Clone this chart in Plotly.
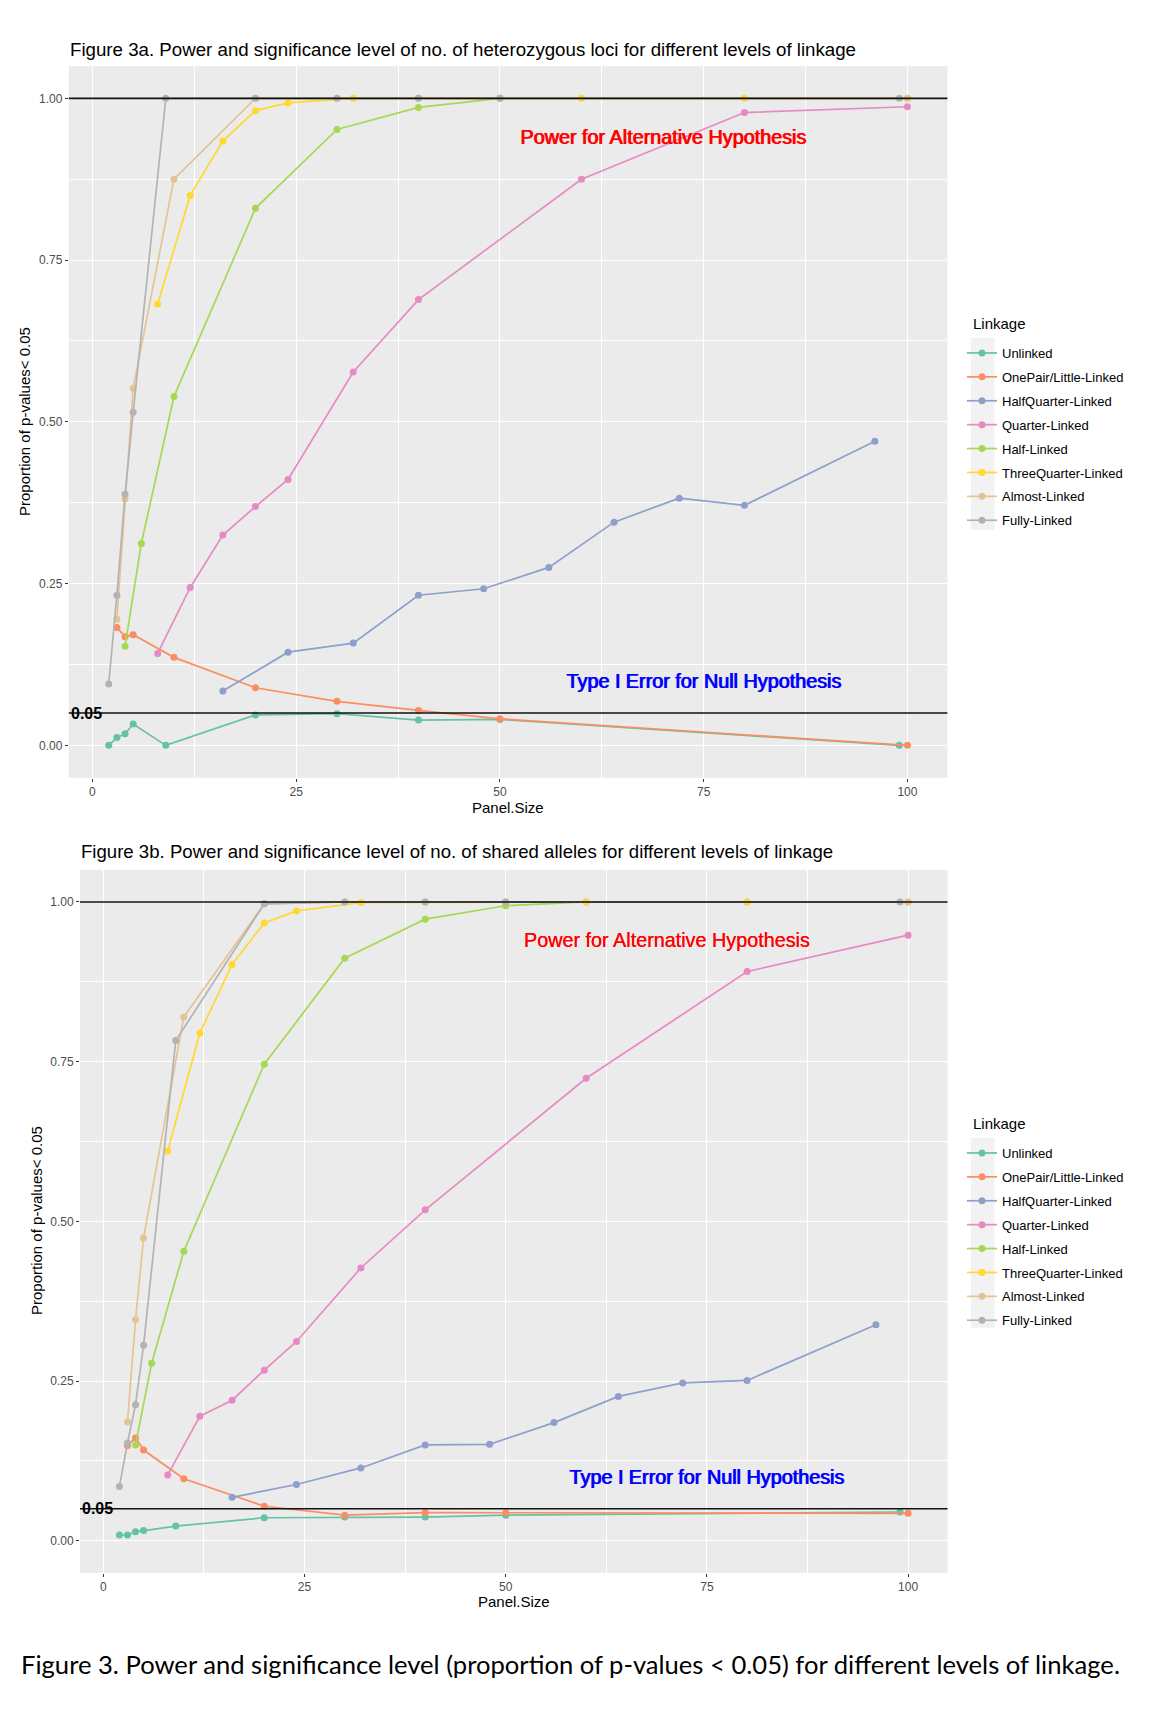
import plotly.graph_objects as go

# page has an 8px default body margin, so the figure is drawn 8px smaller and all
# pixel positions below are given in the reference picture's coordinates.
PAGE_W, PAGE_H = 1152, 1728
OFF = 8
W, H = PAGE_W - OFF, PAGE_H - OFF

series_names = ["Unlinked", "OnePair/Little-Linked", "HalfQuarter-Linked", "Quarter-Linked",
                "Half-Linked", "ThreeQuarter-Linked", "Almost-Linked", "Fully-Linked"]
series_colors = ["#66C2A5", "#FC8D62", "#8DA0CB", "#E78AC3", "#A6D854", "#FFD92F", "#E5C494", "#B3B3B3"]

# ---------- Figure 3a: no. of heterozygous loci ----------
unlinked_a_x = [2, 3, 4, 5, 9, 20, 30, 40, 50, 99]
unlinked_a_y = [0.0, 0.012, 0.018, 0.033, 0.0, 0.047, 0.049, 0.039, 0.040, 0.0]
onepair_a_x = [3, 4, 5, 10, 20, 30, 40, 50, 100]
onepair_a_y = [0.182, 0.168, 0.171, 0.136, 0.089, 0.068, 0.054, 0.041, 0.0]
halfquarter_a_x = [16, 24, 32, 40, 48, 56, 64, 72, 80, 96]
halfquarter_a_y = [0.084, 0.144, 0.158, 0.232, 0.242, 0.275, 0.345, 0.382, 0.371, 0.470]
quarter_a_x = [8, 12, 16, 20, 24, 32, 40, 60, 80, 100]
quarter_a_y = [0.142, 0.244, 0.325, 0.369, 0.411, 0.577, 0.689, 0.875, 0.978, 0.987]
half_a_x = [4, 6, 10, 20, 30, 40, 50]
half_a_y = [0.153, 0.312, 0.539, 0.830, 0.952, 0.986, 1.0]
threequarter_a_x = [8, 12, 16, 20, 24, 32, 60, 80, 100]
threequarter_a_y = [0.682, 0.850, 0.934, 0.981, 0.993, 1.0, 1.0, 1.0, 1.0]
almost_a_x = [3, 4, 5, 10, 20, 30, 40, 50, 100]
almost_a_y = [0.195, 0.381, 0.552, 0.875, 1.0, 1.0, 1.0, 1.0, 1.0]
fully_a_x = [2, 3, 4, 5, 9, 20, 30, 40, 50, 99]
fully_a_y = [0.095, 0.232, 0.388, 0.515, 1.0, 1.0, 1.0, 1.0, 1.0, 1.0]

# ---------- Figure 3b: no. of shared alleles ----------
unlinked_b_x = [2, 3, 4, 5, 9, 20, 30, 40, 50, 99]
unlinked_b_y = [0.009, 0.009, 0.014, 0.016, 0.023, 0.036, 0.037, 0.037, 0.040, 0.045]
onepair_b_x = [3, 4, 5, 10, 20, 30, 40, 50, 100]
onepair_b_y = [0.149, 0.161, 0.142, 0.097, 0.054, 0.040, 0.044, 0.044, 0.043]
halfquarter_b_x = [16, 24, 32, 40, 48, 56, 64, 72, 80, 96]
halfquarter_b_y = [0.068, 0.088, 0.114, 0.150, 0.151, 0.185, 0.226, 0.247, 0.251, 0.338]
quarter_b_x = [8, 12, 16, 20, 24, 32, 40, 60, 80, 100]
quarter_b_y = [0.103, 0.195, 0.220, 0.267, 0.312, 0.427, 0.518, 0.724, 0.891, 0.948]
half_b_x = [4, 6, 10, 20, 30, 40, 50, 60, 80]
half_b_y = [0.150, 0.278, 0.453, 0.746, 0.912, 0.973, 0.994, 1.0, 1.0]
threequarter_b_x = [8, 12, 16, 20, 24, 32, 60, 80, 100]
threequarter_b_y = [0.610, 0.795, 0.902, 0.967, 0.986, 0.999, 1.0, 1.0, 1.0]
almost_b_x = [3, 4, 5, 10, 20, 30, 40, 50, 100]
almost_b_y = [0.186, 0.346, 0.474, 0.820, 0.997, 1.0, 1.0, 1.0, 1.0]
fully_b_x = [2, 3, 4, 5, 9, 20, 30, 40, 50, 99]
fully_b_y = [0.085, 0.153, 0.213, 0.306, 0.783, 0.997, 1.0, 1.0, 1.0, 1.0]

x_ticks = [0, 25, 50, 75, 100]
y_ticks = [0.0, 0.25, 0.5, 0.75, 1.0]
y_ticklabels = ["0.00", "0.25", "0.50", "0.75", "1.00"]
ref_levels = [1.0, 0.05]

title_a = "Figure 3a. Power and significance level of no. of heterozygous loci for different levels of linkage"
title_b = "Figure 3b. Power and significance level of no. of shared alleles for different levels of linkage"
caption = "Figure 3. Power and significance level (proportion of p-values < 0.05) for different levels of linkage."

panel_a = list(zip([unlinked_a_x, onepair_a_x, halfquarter_a_x, quarter_a_x, half_a_x, threequarter_a_x, almost_a_x, fully_a_x],
                   [unlinked_a_y, onepair_a_y, halfquarter_a_y, quarter_a_y, half_a_y, threequarter_a_y, almost_a_y, fully_a_y]))
panel_b = list(zip([unlinked_b_x, onepair_b_x, halfquarter_b_x, quarter_b_x, half_b_x, threequarter_b_x, almost_b_x, fully_b_x],
                   [unlinked_b_y, onepair_b_y, halfquarter_b_y, quarter_b_y, half_b_y, threequarter_b_y, almost_b_y, fully_b_y]))

FONT = "Liberation Sans, Arial, sans-serif"
fig = go.Figure()


def px_x(p):
    return (p - OFF) / W


def px_y(p):
    return 1 - (p - OFF) / H


for panel, xa, ya, leg in [(panel_a, "x", "y", "legend"), (panel_b, "x2", "y2", "legend2")]:
    for i, (xs, ys) in enumerate(panel):
        fig.add_trace(go.Scatter(
            x=xs, y=ys, mode="lines+markers", name=series_names[i],
            line=dict(color=series_colors[i], width=1.7),
            marker=dict(color=series_colors[i], size=7),
            xaxis=xa, yaxis=ya, legend=leg, legendgroup=leg + str(i),
            hoverinfo="x+y+name",
        ))

axis_common = dict(
    range=[-2.9, 104.9], tickvals=x_ticks, ticks="outside", ticklen=3, tickwidth=1,
    tickcolor="#333333", tickfont=dict(family=FONT, size=12, color="#4D4D4D"),
    showgrid=True, gridcolor="white", gridwidth=1.1, zeroline=False, showline=False,
    minor=dict(dtick=12.5, tick0=0, showgrid=True, gridcolor="white", gridwidth=0.55),
)
yaxis_common = dict(
    range=[-0.05, 1.05], tickvals=y_ticks, ticktext=y_ticklabels, ticks="outside", ticklen=3,
    tickwidth=1, tickcolor="#333333", tickfont=dict(family=FONT, size=12, color="#4D4D4D"),
    showgrid=True, gridcolor="white", gridwidth=1.1, zeroline=False, showline=False,
    minor=dict(dtick=0.125, tick0=0, showgrid=True, gridcolor="white", gridwidth=0.55),
)

dom_a_x = [px_x(68.8), px_x(947.4)]
dom_a_y = [px_y(777.7), px_y(66)]
dom_b_x = [px_x(80), px_x(947.5)]
dom_b_y = [px_y(1572.7), px_y(870)]

shapes = []
for xa, ya, dx, dy in [("x", "y", dom_a_x, dom_a_y), ("x2", "y2", dom_b_x, dom_b_y)]:
    shapes.append(dict(type="rect", xref="paper", yref="paper", x0=dx[0], x1=dx[1], y0=dy[0], y1=dy[1],
                       fillcolor="#EBEBEB", line=dict(width=0), layer="below"))
    for lv in ref_levels:
        shapes.append(dict(type="line", xref=xa + " domain", yref=ya, x0=0, x1=1, y0=lv, y1=lv,
                           line=dict(color="#111111", width=1.6), layer="above"))

# legend key background boxes
for y0, y1 in [(337.7, 530), (1137.7, 1327.7)]:
    shapes.append(dict(type="rect", xref="paper", yref="paper", x0=px_x(971), x1=px_x(994.5),
                       y0=px_y(y1), y1=px_y(y0), fillcolor="#F2F2F2", line=dict(width=0), layer="below"))

annotations = []
# titles
annotations.append(dict(text=title_a, xref="paper", yref="paper", x=px_x(68), y=px_y(50),
                        xanchor="left", yanchor="middle", showarrow=False,
                        font=dict(family=FONT, size=18.7, color="black")))
annotations.append(dict(text=title_b, xref="paper", yref="paper", x=px_x(78.5), y=px_y(851),
                        xanchor="left", yanchor="middle", showarrow=False,
                        font=dict(family=FONT, size=18.6, color="black")))
# axis titles
for cx, cy in [(508, 807), (513.5, 1601)]:
    annotations.append(dict(text="Panel.Size", xref="paper", yref="paper", x=px_x(cx), y=px_y(cy),
                            xanchor="center", yanchor="middle", showarrow=False,
                            font=dict(family=FONT, size=15, color="black")))
for cx, cy in [(24, 422), (36, 1221)]:
    annotations.append(dict(text="Proportion of p-values< 0.05", xref="paper", yref="paper",
                            x=px_x(cx), y=px_y(cy), textangle=-90, xanchor="center", yanchor="middle",
                            showarrow=False, font=dict(family=FONT, size=15, color="black")))
# legend titles
for cy in [323, 1123]:
    annotations.append(dict(text="Linkage", xref="paper", yref="paper", x=px_x(970.5), y=px_y(cy),
                            xanchor="left", yanchor="middle", showarrow=False,
                            font=dict(family=FONT, size=15, color="black")))
# in-plot labels (drawn twice with a sub-pixel shift, as the overplotted originals look heavier)
for xa, ya in [("x", "y"), ("x2", "y2")]:
    for sh in [0, 0.7]:
        annotations.append(dict(text="Power for Alternative Hypothesis", xref=xa, yref=ya, x=70, y=0.94,
                                xanchor="center", yanchor="middle", showarrow=False, xshift=sh,
                                font=dict(family=FONT, size=19.8, color="#FF0000")))
        annotations.append(dict(text="Type I Error for Null Hypothesis", xref=xa, yref=ya, x=75, y=0.1,
                                xanchor="center", yanchor="middle", showarrow=False, xshift=sh,
                                font=dict(family=FONT, size=19.8, color="#0000FF")))
    annotations.append(dict(text="<b>0.05</b>", xref=xa + " domain", yref=ya, x=0, y=0.05,
                            xanchor="left", yanchor="middle", showarrow=False,
                            font=dict(family=FONT, size=16, color="black")))
# caption
annotations.append(dict(text=caption, xref="paper", yref="paper", x=px_x(570), y=px_y(1664),
                        xanchor="center", yanchor="middle", showarrow=False,
                        font=dict(family="Lato, Carlito, sans-serif", size=25.6, color="black")))

legend_common = dict(
    xanchor="left", yanchor="top", bgcolor="rgba(0,0,0,0)", borderwidth=0,
    font=dict(family=FONT, size=13, color="black"), tracegroupgap=4,
    itemclick=False, itemdoubleclick=False,
)

fig.update_layout(
    width=W, height=H, autosize=False,
    paper_bgcolor="white", plot_bgcolor="rgba(0,0,0,0)",
    margin=dict(l=0, r=0, t=0, b=0),
    showlegend=True,
    xaxis=dict(domain=dom_a_x, anchor="y", **axis_common),
    yaxis=dict(domain=dom_a_y, anchor="x", **yaxis_common),
    xaxis2=dict(domain=dom_b_x, anchor="y2", **axis_common),
    yaxis2=dict(domain=dom_b_y, anchor="x2", **yaxis_common),
    legend=dict(x=px_x(962), y=px_y(338), **legend_common),
    legend2=dict(x=px_x(962), y=px_y(1138), **legend_common),
    shapes=shapes, annotations=annotations,
)

fig.write_html("out.html")
